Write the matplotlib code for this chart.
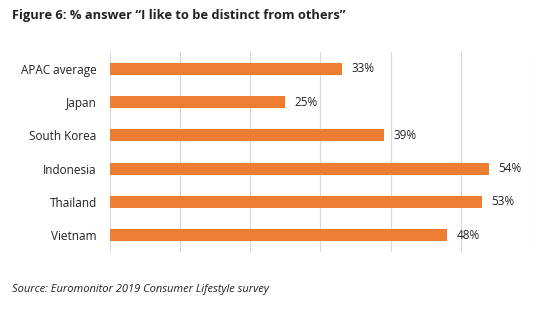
import matplotlib
matplotlib.use("Agg")
import matplotlib.pyplot as plt

countries = ["APAC average", "Japan", "South Korea", "Indonesia", "Thailand", "Vietnam"]
shares = [33, 25, 39, 54, 53, 48]

plt.rcParams["font.family"] = ["Open Sans", "DejaVu Sans"]

fig = plt.figure(figsize=(5.48, 3.22), dpi=100)
ax = fig.add_axes([0.2007, 0.2174, 0.7683, 0.6211])

ypos = list(range(len(countries)))
ax.barh(ypos, shares, height=0.36, color="#ED7D31", zorder=3)
for y, v in zip(ypos, shares):
    ax.text(v + 1.35, y, f"{v}%", va="center", ha="left", fontsize=8.5, color="#222222")

ax.set_xlim(0, 60)
ax.set_ylim(len(countries) - 0.5, -0.5)
ax.set_xticks(range(0, 61, 10))
ax.set_xticklabels([])
ax.set_yticks(ypos)
ax.set_yticklabels(countries, fontsize=8.5, color="#222222")
ax.tick_params(axis="both", length=0, pad=9.5)
ax.grid(axis="x", color="#D9D9D9", linewidth=0.8, zorder=0)
for s in ax.spines.values():
    s.set_visible(False)

fig.text(0.022, 0.953, "Figure 6: % answer \u201cI like to be distinct from others\u201d",
         fontsize=9.3, fontweight="bold", color="#222222", va="center", ha="left")
fig.text(0.022, 0.10, "Source: Euromonitor 2019 Consumer Lifestyle survey",
         fontsize=8, style="italic", color="#222222", va="center", ha="left")

fig.savefig("out.png", dpi=100)
